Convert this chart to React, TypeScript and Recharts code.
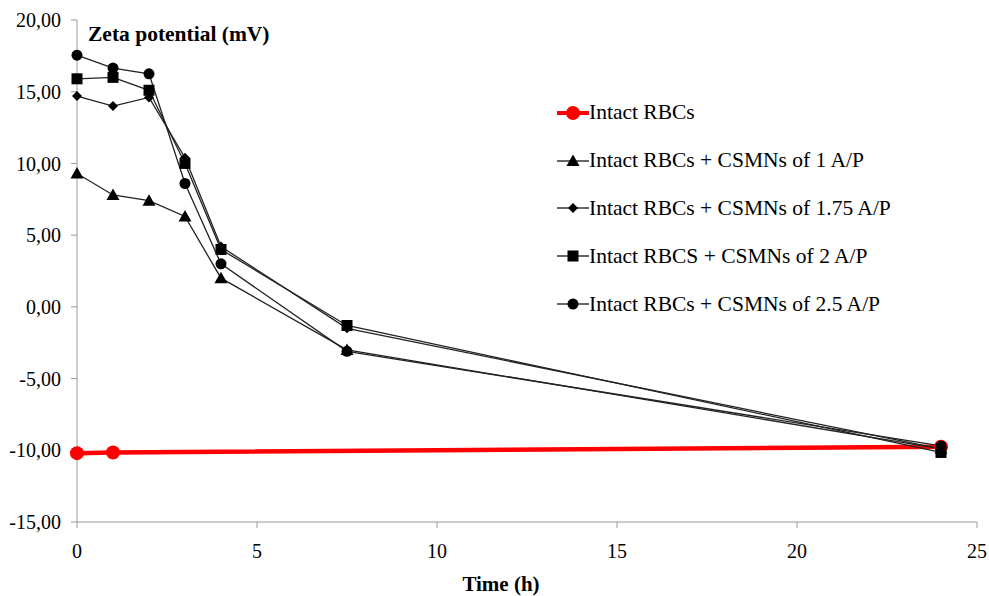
import React from 'react';
import { LineChart, Line, XAxis, YAxis, Legend } from 'recharts';

// time points (h)
const times = [0, 1, 2, 3, 4, 7.5, 24];

// zeta potential (mV) per sample
const intact = [-10.2, -10.15, null, null, null, null, -9.75];
const csmn1 = [9.3, 7.8, 7.4, 6.3, 2.0, -3.0, -9.9];
const csmn175 = [14.7, 14.0, 14.6, 10.4, 4.2, -1.5, -9.9];
const csmn2 = [15.9, 16.0, 15.1, 10.0, 4.0, -1.3, -10.15];
const csmn25 = [17.55, 16.65, 16.25, 8.6, 3.0, -3.1, -9.7];

const xTicks = [0, 5, 10, 15, 20, 25];
const yTicks = [-15, -10, -5, 0, 5, 10, 15, 20];

const data = times.map((t, i) => ({
  t,
  intact: intact[i],
  csmn1: csmn1[i],
  csmn175: csmn175[i],
  csmn2: csmn2[i],
  csmn25: csmn25[i],
}));

const FONT = '"Liberation Serif", "Times New Roman", serif';

const series = [
  { key: 'intact', name: 'Intact RBCs', shape: 'red', color: '#ff0000', width: 4.5 },
  { key: 'csmn1', name: 'Intact RBCs + CSMNs of 1 A/P', shape: 'tri', color: '#222', width: 1.3 },
  { key: 'csmn175', name: 'Intact RBCs + CSMNs of 1.75 A/P', shape: 'dia', color: '#222', width: 1.3 },
  { key: 'csmn2', name: 'Intact RBCS + CSMNs of 2 A/P', shape: 'sq', color: '#222', width: 1.3 },
  { key: 'csmn25', name: 'Intact RBCs + CSMNs of 2.5 A/P', shape: 'circ', color: '#222', width: 1.3 },
];

const Marker = ({ cx, cy, shape }: { cx: number; cy: number; shape: string }) => {
  if (shape === 'red') return <circle cx={cx} cy={cy} r={7} fill="#ff0000" />;
  if (shape === 'circ') return <circle cx={cx} cy={cy} r={5.5} fill="#000" />;
  if (shape === 'sq') return <rect x={cx - 5.5} y={cy - 5.5} width={11} height={11} fill="#000" />;
  if (shape === 'tri')
    return <polygon points={`${cx},${cy - 6.5} ${cx + 6.5},${cy + 5} ${cx - 6.5},${cy + 5}`} fill="#000" />;
  return <polygon points={`${cx},${cy - 5} ${cx + 5},${cy} ${cx},${cy + 5} ${cx - 5},${cy}`} fill="#000" />;
};

const renderDot = (shape: string) => (p: any) => {
  if (p.value == null || p.cy == null) return <g key={p.index} />;
  return <Marker key={p.index} cx={p.cx} cy={p.cy} shape={shape} />;
};

const LegendBox = () => (
  <div style={{ fontFamily: FONT, fontSize: 21.5, color: '#000' }}>
    {series.map((s) => (
      <div key={s.key} style={{ display: 'flex', alignItems: 'center', height: 47.8 }}>
        <svg width={34} height={20} style={{ flex: 'none' }}>
          <line x1={2} y1={10} x2={34} y2={10} stroke={s.shape === 'red' ? '#ff0000' : '#000'} strokeWidth={s.shape === 'red' ? 4 : 1.2} />
          <Marker cx={18} cy={10} shape={s.shape} />
        </svg>
        <span style={{ whiteSpace: 'nowrap' }}>{s.name}</span>
      </div>
    ))}
  </div>
);

export default function App() {
  return (
    <div style={{ position: 'absolute', left: 0, top: 0, width: 989, height: 596, background: '#fff' }}>
      <LineChart width={989} height={596} data={data} margin={{ top: 20, right: 12, left: 0, bottom: 0 }}>
        <XAxis
          dataKey="t"
          type="number"
          domain={[0, 25]}
          ticks={xTicks}
          height={74}
          stroke="#9a9a9a"
          tickSize={6}
          tickMargin={16}
          tick={{ fill: '#000', fontFamily: FONT, fontSize: 20 }}
          label={{
            value: 'Time (h)',
            position: 'insideBottom',
            offset: 5,
            dx: -26,
            style: { fontFamily: FONT, fontSize: 21, fontWeight: 'bold', fill: '#000' },
          }}
        />
        <YAxis
          type="number"
          domain={[-15, 20]}
          ticks={yTicks}
          width={77}
          stroke="#9a9a9a"
          tickSize={6}
          tickMargin={10}
          tickFormatter={(v: number) => v.toFixed(2).replace('.', ',')}
          tick={{ fill: '#000', fontFamily: FONT, fontSize: 20 }}
        />
        <Legend
          layout="vertical"
          align="center"
          verticalAlign="middle"
          content={<LegendBox />}
          wrapperStyle={{ left: 555, top: 89, width: 430 }}
        />
        {series.map((s) => (
          <Line
            key={s.key}
            dataKey={s.key}
            name={s.name}
            type="linear"
            stroke={s.color}
            strokeWidth={s.width}
            connectNulls
            dot={renderDot(s.shape)}
            activeDot={false}
            isAnimationActive={false}
          />
        ))}
      </LineChart>
      <div
        style={{
          position: 'absolute',
          left: 88,
          top: 22,
          fontFamily: FONT,
          fontSize: 21.5,
          fontWeight: 'bold',
          color: '#000',
        }}
      >
        Zeta potential (mV)
      </div>
    </div>
  );
}
